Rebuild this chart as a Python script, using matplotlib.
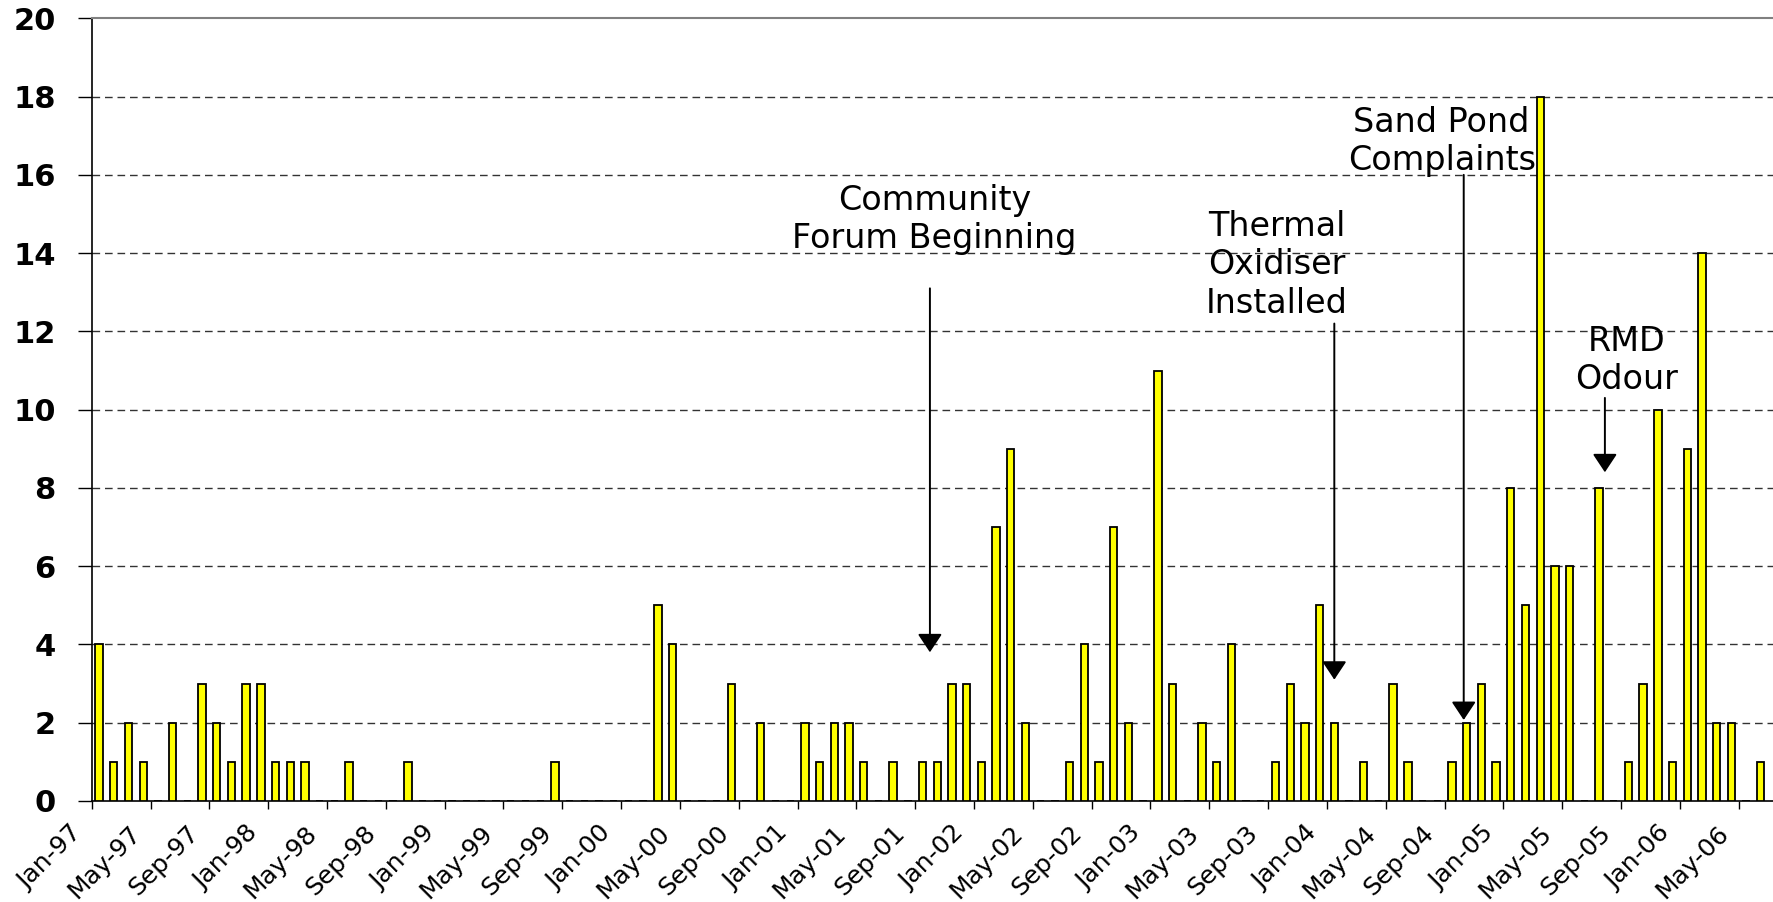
import numpy as np
import matplotlib
matplotlib.use('Agg')
import matplotlib.pyplot as plt
from matplotlib.transforms import ScaledTranslation


# monthly complaint counts, Jan-97 .. Jun-06
counts = [
    4, 1, 2, 1, 0, 2, 0, 3, 2, 1, 3, 3,       # 1997
    1, 1, 1, 0, 0, 1, 0, 0, 0, 1, 0, 0,       # 1998
    0, 0, 0, 0, 0, 0, 0, 1, 0, 0, 0, 0,       # 1999
    0, 0, 5, 4, 0, 0, 0, 3, 0, 2, 0, 0,       # 2000
    2, 1, 2, 2, 1, 0, 1, 0, 1, 1, 3, 3,       # 2001
    1, 7, 9, 2, 0, 0, 1, 4, 1, 7, 2, 0,       # 2002
    11, 3, 0, 2, 1, 4, 0, 0, 1, 3, 2, 5,      # 2003
    2, 0, 1, 0, 3, 1, 0, 0, 1, 2, 3, 1,       # 2004
    8, 5, 18, 6, 6, 0, 8, 0, 1, 3, 10, 1,     # 2005
    9, 14, 2, 2, 0, 1,                        # 2006
]

tick_labels = [
    'Jan-97', 'May-97', 'Sep-97', 'Jan-98', 'May-98', 'Sep-98',
    'Jan-99', 'May-99', 'Sep-99', 'Jan-00', 'May-00', 'Sep-00',
    'Jan-01', 'May-01', 'Sep-01', 'Jan-02', 'May-02', 'Sep-02',
    'Jan-03', 'May-03', 'Sep-03', 'Jan-04', 'May-04', 'Sep-04',
    'Jan-05', 'May-05', 'Sep-05', 'Jan-06', 'May-06',
]

# annotations: text, text position, arrow x, arrow start y, arrow tip y
notes = [
    ('Community\nForum Beginning', 57.3, 14.85, 57.0, 13.1, 3.8),
    ('Thermal\nOxidiser\nInstalled', 80.6, 13.7, 84.5, 12.2, 3.1),
    ('Sand Pond\nComplaints', 91.8, 16.85, 93.3, 16.0, 2.07),
    ('RMD\nOdour', 104.4, 11.25, 102.9, 10.3, 8.4),
]

fig = plt.figure(figsize=(17.74, 9.02), dpi=100)
ax = fig.add_axes([0.0517, 0.112, 0.9483, 0.8677])

x = np.arange(len(counts)) + 0.5
ax.bar(x, counts, width=0.5, color='#ffff00', edgecolor='black',
       linewidth=1.3, zorder=3)

ax.set_xlim(0, 114.4)
ax.set_ylim(0, 20)
ax.set_yticks(range(0, 21, 2))
ax.set_yticklabels([str(v) for v in range(0, 21, 2)],
                   fontsize=22, fontweight='bold')
ax.set_xticks(np.arange(len(tick_labels)) * 4)
ax.set_xticklabels(tick_labels, rotation=45, ha='right', va='baseline',
                   rotation_mode='anchor', fontsize=18)

ax.tick_params(axis='y', length=10, width=1, pad=16)
ax.tick_params(axis='x', length=6, width=1, pad=18)

shift = ScaledTranslation(-9 / 100, 0, fig.dpi_scale_trans)
for lab in ax.get_xticklabels():
    lab.set_transform(lab.get_transform() + shift)

for v in range(2, 20, 2):
    ax.axhline(v, color='#333333', linewidth=1,
               linestyle=(0, (5.5, 3.5)), zorder=1)

ax.spines['right'].set_visible(False)
ax.spines['top'].set_color('#808080')
ax.spines['top'].set_linewidth(1.5)
ax.spines['left'].set_linewidth(1.2)
ax.spines['bottom'].set_linewidth(1.2)

for label, tx, ty, axx, y0, y1 in notes:
    ax.text(tx, ty, label, ha='center', va='center', fontsize=24,
            linespacing=1.2, zorder=5)
    ax.annotate('', xy=(axx, y1), xytext=(axx, y0),
                arrowprops=dict(arrowstyle='-|>,head_length=1.13,head_width=0.75',
                                color='black', lw=1.4, shrinkA=0, shrinkB=0),
                zorder=5)

plt.savefig('out.png', dpi=100)
